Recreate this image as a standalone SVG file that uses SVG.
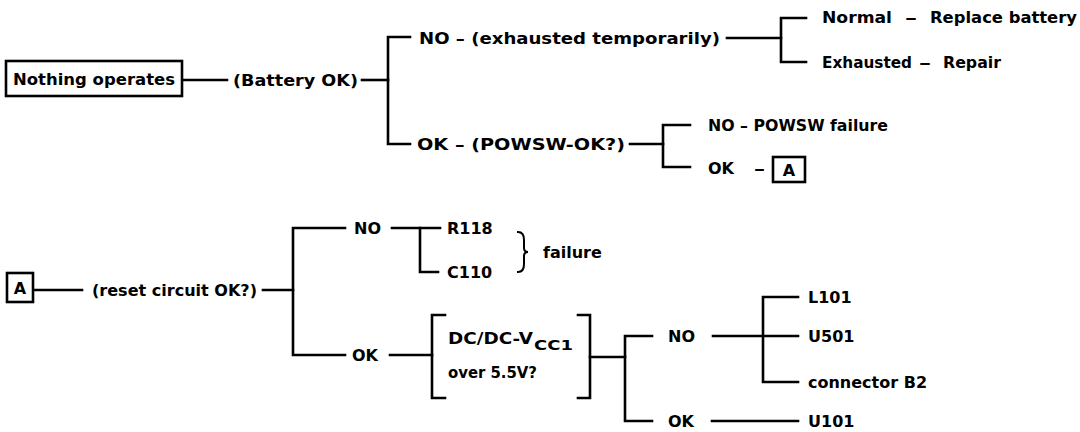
<svg xmlns="http://www.w3.org/2000/svg" width="1080" height="432" viewBox="0 0 1080 432">
<style>
  text { font-family: "DejaVu Sans", "Liberation Sans", sans-serif; font-weight: bold; font-size: 16px; fill: #000; }
  .ln { fill: none; stroke: #000; stroke-width: 2.6; stroke-linecap: square; stroke-linejoin: miter; }
  .bx { fill: #fff; stroke: #000; stroke-width: 2.6; }
  .sub { font-size: 14px; }
</style>
<rect width="1080" height="432" fill="#fff"/>
<g id="connectors">
  <path class="ln" d="M182 80 H227"/>
  <path class="ln" d="M362 80 H388"/>
  <path class="ln" d="M410 37 H388 V144 H410"/>
  <path class="ln" d="M727 38 H781"/>
  <path class="ln" d="M806 18 H781 V62 H806"/>
  <path class="ln" d="M630 144 H663"/>
  <path class="ln" d="M690 125 H663 V167 H690"/>
  <path class="ln" d="M33 290 H82"/>
  <path class="ln" d="M263 290 H293"/>
  <path class="ln" d="M345 228 H293 V355 H345"/>
  <path class="ln" d="M392 228 H440"/>
  <path class="ln" d="M420 228 V272 H438"/>
  <path class="ln" style="stroke-width:2" d="M518 232 Q524 232 524 240 V248 Q524 252 528 252 Q524 252 524 256 V264 Q524 272 518 272"/>
  <path class="ln" d="M390 355 H432"/>
  <path class="ln" d="M445 315 H432 V398 H445"/>
  <path class="ln" d="M578 315 H590 V398 H578"/>
  <path class="ln" d="M590 357 H625"/>
  <path class="ln" d="M652 336 H625 V421 H652"/>
  <path class="ln" d="M713 336 H798"/>
  <path class="ln" d="M798 297 H763 V382 H798"/>
  <path class="ln" d="M712 421 H798"/>
</g>
<g id="n-nothing">
  <rect class="bx" x="6" y="61" width="176" height="35"/>
  <text x="13" y="85" textLength="162" lengthAdjust="spacingAndGlyphs">Nothing operates</text>
</g>
<g id="n-battery"><text x="233" y="86" textLength="125" lengthAdjust="spacingAndGlyphs">(Battery OK)</text></g>
<g id="n-exhausted-temp"><text x="419" y="44" textLength="301" lengthAdjust="spacingAndGlyphs">NO – (exhausted temporarily)</text></g>
<g id="n-normal">
  <text x="822" y="23" textLength="70" lengthAdjust="spacingAndGlyphs">Normal</text>
  <text x="905" y="23" textLength="12" lengthAdjust="spacingAndGlyphs">–</text>
  <text x="930" y="23" textLength="147" lengthAdjust="spacingAndGlyphs">Replace battery</text>
</g>
<g id="n-exhausted">
  <text x="822" y="68" textLength="90" lengthAdjust="spacingAndGlyphs">Exhausted</text>
  <text x="919" y="68" textLength="12" lengthAdjust="spacingAndGlyphs">–</text>
  <text x="943" y="68" textLength="58" lengthAdjust="spacingAndGlyphs">Repair</text>
</g>
<g id="n-powsw"><text x="417" y="150" textLength="208" lengthAdjust="spacingAndGlyphs">OK – (POWSW-OK?)</text></g>
<g id="n-powsw-fail"><text x="708" y="131" textLength="180" lengthAdjust="spacingAndGlyphs">NO – POWSW failure</text></g>
<g id="n-ok-a">
  <text x="708" y="174">OK</text>
  <text x="754" y="174" textLength="11" lengthAdjust="spacingAndGlyphs">–</text>
  <rect class="bx" x="773" y="157" width="32" height="25"/>
  <text x="789" y="176" text-anchor="middle">A</text>
</g>
<g id="n-a">
  <rect class="bx" x="7" y="273" width="26" height="29"/>
  <text x="20" y="294" text-anchor="middle">A</text>
</g>
<g id="n-reset"><text x="92" y="296" textLength="165" lengthAdjust="spacingAndGlyphs">(reset circuit OK?)</text></g>
<g id="n-reset-no"><text x="354" y="234">NO</text></g>
<g id="n-r118"><text x="447" y="234">R118</text></g>
<g id="n-c110"><text x="447" y="278">C110</text></g>
<g id="n-failure"><text x="543" y="258">failure</text></g>
<g id="n-reset-ok"><text x="352" y="361">OK</text></g>
<g id="n-dcdc">
  <text x="448" y="344" textLength="85" lengthAdjust="spacingAndGlyphs">DC/DC-V</text>
  <text class="sub" x="534" y="350" textLength="39" lengthAdjust="spacingAndGlyphs">CC1</text>
  <text x="448" y="378" textLength="89" lengthAdjust="spacingAndGlyphs">over 5.5V?</text>
</g>
<g id="n-dc-no"><text x="668" y="342">NO</text></g>
<g id="n-dc-ok"><text x="668" y="427">OK</text></g>
<g id="n-l101"><text x="808" y="303">L101</text></g>
<g id="n-u501"><text x="808" y="342">U501</text></g>
<g id="n-b2"><text x="808" y="388">connector B2</text></g>
<g id="n-u101"><text x="808" y="427">U101</text></g>
</svg>
